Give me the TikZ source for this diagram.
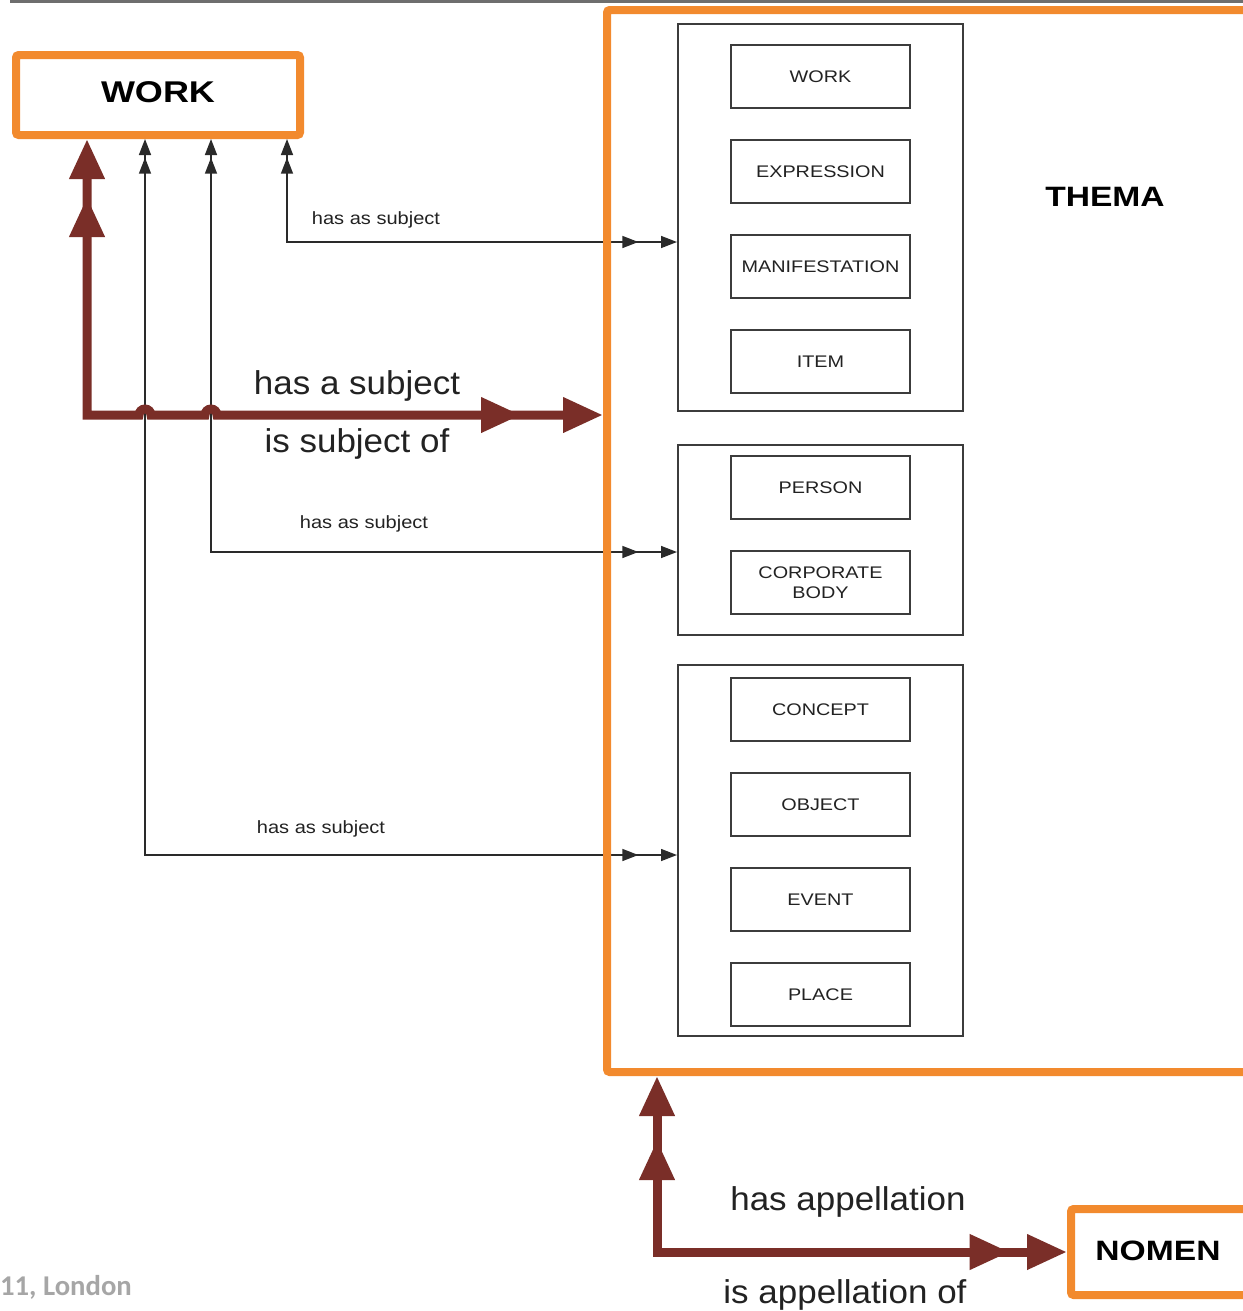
\documentclass[tikz,border=0pt]{standalone}
\usepackage{fontspec}
\setmainfont{Liberation Sans}
\newfontfamily\boxfont[FakeStretch=1.18]{Liberation Sans}
\newfontfamily\labfont[FakeStretch=1.13]{Liberation Sans}
\newfontfamily\bigfont[FakeStretch=1.06]{Liberation Sans}
\newfontfamily\titfont[FakeStretch=1.2]{Liberation Sans}
\newfontfamily\carlfont{Carlito}
\usetikzlibrary{arrows.meta,calc}
\definecolor{orng}{HTML}{F28A2E}
\definecolor{brwn}{HTML}{7A2E28}
\definecolor{boxgray}{HTML}{3C3C3C}
\definecolor{thincol}{HTML}{2A2A2A}
\definecolor{txt}{HTML}{222222}
\definecolor{topgray}{HTML}{6E6E6E}
\definecolor{footgray}{HTML}{A6A6A6}
\tikzset{
  BT/.tip={Triangle[length=30pt,width=25pt]},
  TT/.tip={Triangle[length=12pt,width=9pt]},
}
\begin{document}
\begin{tikzpicture}[x=0.75pt,y=-0.75pt,
  itembox/.style={draw=boxgray, line width=1.5pt, minimum width=134.25pt, minimum height=47.25pt, inner sep=0pt, font=\boxfont\fontsize{12.6pt}{15pt}\selectfont, text=txt, align=center},
  groupbox/.style={draw=boxgray, line width=1.5pt, minimum width=213.75pt, inner sep=0pt},
  obox/.style={draw=orng, line width=6pt, rounded corners=2pt, inner sep=0pt},
  titletext/.style={font=\titfont\bfseries\fontsize{21pt}{24pt}\selectfont, text=black},
  biglabel/.style={font=\bigfont\fontsize{24.75pt}{28pt}\selectfont, text=txt},
  smalllabel/.style={font=\labfont\fontsize{13.3pt}{15pt}\selectfont, text=txt},
  brownline/.style={draw=brwn, line width=6.75pt},
  thinline/.style={draw=thincol, line width=1.1pt},
]
\useasboundingbox (0,0) rectangle (1243,1311);

% top gray rule
\draw[topgray, line width=2.5pt] (10,1.5) -- (1243,1.5);

% WORK box
\node[obox, minimum width=213pt, minimum height=60pt] (work) at (158,95) {};
\node[titletext, font=\titfont\bfseries\fontsize{22.5pt}{24pt}\selectfont] (worklab) at (158,92) {WORK};

% group boxes
\node[groupbox, minimum height=290.25pt] (g1) at (820.5,217.5) {};
\node[groupbox, minimum height=142.5pt] (g2) at (820.5,540) {};
\node[groupbox, minimum height=278.25pt] (g3) at (820.5,850.5) {};

% thin connectors (drawn below the THEMA frame)
\coordinate (c1) at (287,242);
\coordinate (c2) at (211,552);
\coordinate (c3) at (145,855);
\draw[thinline, {TT[] TT[sep=2pt]}-{TT[sep=17pt] TT[]}] (work.south -| c1) -- (c1) -- (g1.west |- c1);
\draw[thinline, {TT[] TT[sep=2pt]}-{TT[sep=17pt] TT[]}] (work.south -| c2) -- (c2) -- (g2.west |- c2);
\draw[thinline, {TT[] TT[sep=2pt]}-{TT[sep=17pt] TT[]}] (work.south -| c3) -- (c3) -- (g3.west |- c3);
\node[smalllabel] (l1) at (376,220) {has as subject};
\node[smalllabel] (l2) at (364,524) {has as subject};
\node[smalllabel] (l3) at (321,829) {has as subject};

% THEMA frame
\node[obox, minimum width=491.25pt, minimum height=796.5pt] (thema) at (934.5,541) {};
\node[titletext] (themalab) at (1105,197) {THEMA};

% items
\node[itembox] (iwork) at (820.5,76.5) {WORK};
\node[itembox] (iexpr) at (820.5,171.5) {EXPRESSION};
\node[itembox] (imani) at (820.5,266.5) {MANIFESTATION};
\node[itembox] (iitem) at (820.5,361.5) {ITEM};
\node[itembox] (ipers) at (820.5,487.5) {PERSON};
\node[itembox] (icorp) at (820.5,582.5) {CORPORATE\\BODY};
\node[itembox] (iconc) at (820.5,709.5) {CONCEPT};
\node[itembox] (iobj) at (820.5,804.5) {OBJECT};
\node[itembox] (ievent) at (820.5,899.5) {EVENT};
\node[itembox] (iplace) at (820.5,994.5) {PLACE};

% NOMEN box
\node[obox, minimum width=156.75pt, minimum height=64.5pt] (nomen) at (1175.5,1252) {};
\node[titletext] (nomenlab) at (1158,1251) {NOMEN};

% brown WORK-THEMA connector with hops
\coordinate (hb) at (87,415);
\draw[brownline, {BT[] BT[sep=13.5pt]}-{BT[sep=31.5pt] BT[]}]
  (work.south -| hb) -- (hb) -- (139,415)
  arc[start angle=180, end angle=360, radius=6] -- (205,415)
  arc[start angle=180, end angle=360, radius=6] -- (thema.west |- hb);
\node[biglabel] (hasa) at (357,386) {has a subject};
\node[biglabel] (isof) at (357,444) {is subject of};

% brown THEMA-NOMEN connector
\coordinate (hb2) at (657,1252);
\draw[brownline, {BT[] BT[sep=18pt]}-{BT[sep=13pt] BT[]}]
  (thema.south -| hb2) -- (hb2) -- (nomen.west |- hb2);
\node[biglabel] (hasapp) at (848,1202) {has appellation};
\node[biglabel] (isapp) at (845,1295) {is appellation of};

% footer fragment
\node[font=\carlfont\bfseries\fontsize{21.5pt}{24pt}\selectfont, text=footgray, anchor=east, inner sep=0pt] (foot) at (132,1287) {11, London};
\end{tikzpicture}
\end{document}
